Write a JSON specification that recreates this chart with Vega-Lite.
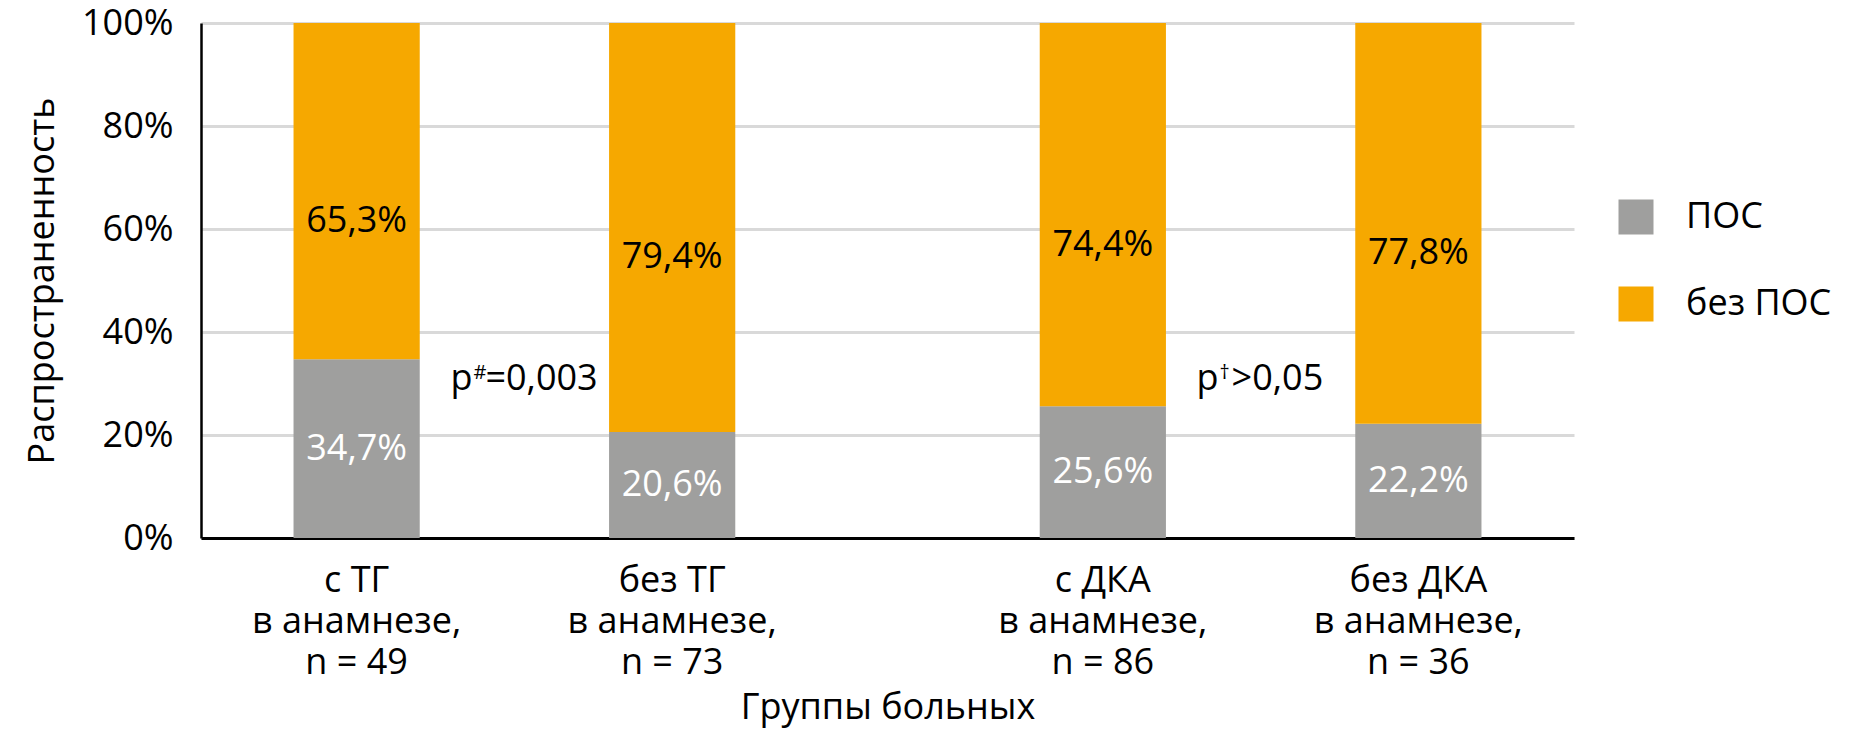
{
  "$schema": "https://vega.github.io/schema/vega-lite/v6.json",
  "width": 1373,
  "height": 515,
  "autosize": {"type": "none"},
  "padding": {"left": 201, "top": 23, "right": 298, "bottom": 196},
  "config": {
    "font": "Open Sans",
    "view": {"stroke": null},
    "locale": {"number": {"decimal": ",", "thousands": " ", "grouping": [3], "currency": ["", ""]}},
    "axis": {
      "labelFont": "Open Sans",
      "titleFont": "Open Sans",
      "labelFontSize": 36,
      "titleFontSize": 36,
      "titleFontWeight": "normal",
      "labelColor": "black",
      "titleColor": "black"
    }
  },
  "datasets": {
    "bars": [
      {"group": "ТГ", "sub": "с", "label": "с ТГ\nв анамнезе,\nn = 49", "status": "ПОС", "pct": 0.347},
      {"group": "ТГ", "sub": "с", "label": "с ТГ\nв анамнезе,\nn = 49", "status": "без ПОС", "pct": 0.653},
      {"group": "ТГ", "sub": "без", "label": "без ТГ\nв анамнезе,\nn = 73", "status": "ПОС", "pct": 0.206},
      {"group": "ТГ", "sub": "без", "label": "без ТГ\nв анамнезе,\nn = 73", "status": "без ПОС", "pct": 0.794},
      {"group": "ДКА", "sub": "с", "label": "с ДКА\nв анамнезе,\nn = 86", "status": "ПОС", "pct": 0.256},
      {"group": "ДКА", "sub": "с", "label": "с ДКА\nв анамнезе,\nn = 86", "status": "без ПОС", "pct": 0.744},
      {"group": "ДКА", "sub": "без", "label": "без ДКА\nв анамнезе,\nn = 36", "status": "ПОС", "pct": 0.222},
      {"group": "ДКА", "sub": "без", "label": "без ДКА\nв анамнезе,\nn = 36", "status": "без ПОС", "pct": 0.778}
    ],
    "notes": [
      {"group": "ТГ", "sup": "#", "rest": "=0,003"},
      {"group": "ДКА", "sup": "†", "rest": ">0,05"}
    ]
  },
  "layer": [
    {
      "data": {"name": "bars"},
      "mark": {"type": "bar"},
      "encoding": {
        "x": {
          "field": "group",
          "type": "nominal",
          "sort": ["ТГ", "ДКА"],
          "scale": {"paddingInner": 0.408, "paddingOuter": 0.124},
          "axis": {
            "labels": false,
            "ticks": false,
            "domainColor": "black",
            "domainWidth": 3,
            "title": "Группы больных",
            "titlePadding": 152
          }
        },
        "xOffset": {
          "field": "sub",
          "type": "nominal",
          "sort": ["с", "без"],
          "scale": {"paddingInner": 0.6, "paddingOuter": 0}
        },
        "y": {
          "field": "pct",
          "type": "quantitative",
          "stack": "zero",
          "scale": {"domain": [0, 1]},
          "axis": {
            "values": [0, 0.2, 0.4, 0.6, 0.8, 1],
            "format": ".0%",
            "ticks": false,
            "tickSize": 0,
            "labelPadding": 28,
            "domainColor": "black",
            "domainWidth": 2.5,
            "gridColor": "#d9d9d9",
            "gridWidth": 3,
            "title": "Распространенность",
            "titlePadding": 20
          }
        },
        "color": {
          "field": "status",
          "type": "nominal",
          "scale": {"domain": ["ПОС", "без ПОС"], "range": ["#9f9f9e", "#f6a800"]},
          "legend": {
            "title": null,
            "orient": "none",
            "legendX": 1417,
            "legendY": 176,
            "symbolType": "square",
            "symbolSize": 1225,
            "symbolStrokeWidth": 0,
            "symbolOpacity": 1,
            "labelFont": "Open Sans",
            "labelFontSize": 36,
            "labelColor": "black",
            "labelOffset": 32,
            "rowPadding": 51,
            "padding": 0
          }
        },
        "order": {"field": "status", "sort": "ascending"}
      }
    },
    {
      "data": {"name": "bars"},
      "mark": {"type": "text", "fontSize": 36, "baseline": "middle"},
      "encoding": {
        "x": {"field": "group", "type": "nominal", "sort": ["ТГ", "ДКА"]},
        "xOffset": {"field": "sub", "type": "nominal", "sort": ["с", "без"]},
        "y": {"field": "pct", "type": "quantitative", "stack": "zero", "bandPosition": 0.5},
        "order": {"field": "status", "sort": "ascending"},
        "text": {"field": "pct", "type": "quantitative", "format": ".1%"},
        "color": {"value": "white"},
        "opacity": {"condition": {"test": "datum.status === 'ПОС'", "value": 1}, "value": 0}
      }
    },
    {
      "data": {"name": "bars"},
      "mark": {"type": "text", "fontSize": 36, "baseline": "middle", "dy": 30},
      "encoding": {
        "x": {"field": "group", "type": "nominal", "sort": ["ТГ", "ДКА"]},
        "xOffset": {"field": "sub", "type": "nominal", "sort": ["с", "без"]},
        "y": {"field": "pct", "type": "quantitative", "stack": "zero", "bandPosition": 0.5},
        "order": {"field": "status", "sort": "ascending"},
        "text": {"field": "pct", "type": "quantitative", "format": ".1%"},
        "color": {"value": "black"},
        "opacity": {"condition": {"test": "datum.status === 'без ПОС'", "value": 1}, "value": 0}
      }
    },
    {
      "data": {"name": "bars"},
      "transform": [{"filter": "datum.status === 'ПОС'"}],
      "mark": {"type": "text", "fontSize": 36, "baseline": "top", "lineBreak": "\n", "lineHeight": 41, "dy": 26, "color": "black"},
      "encoding": {
        "x": {"field": "group", "type": "nominal", "sort": ["ТГ", "ДКА"]},
        "xOffset": {"field": "sub", "type": "nominal", "sort": ["с", "без"]},
        "y": {"datum": 0},
        "text": {"field": "label"}
      }
    },
    {
      "data": {"name": "notes"},
      "mark": {"type": "text", "fontSize": 36, "align": "left", "baseline": "alphabetic", "dx": -64, "color": "black"},
      "encoding": {
        "x": {"field": "group", "type": "nominal", "sort": ["ТГ", "ДКА"]},
        "y": {"datum": 0.287},
        "text": {"value": "p"}
      }
    },
    {
      "data": {"name": "notes"},
      "mark": {"type": "text", "fontSize": 20, "align": "left", "baseline": "alphabetic", "dx": -41, "dy": -11, "color": "black"},
      "encoding": {
        "x": {"field": "group", "type": "nominal", "sort": ["ТГ", "ДКА"]},
        "y": {"datum": 0.287},
        "text": {"field": "sup"}
      }
    },
    {
      "data": {"name": "notes"},
      "mark": {"type": "text", "fontSize": 36, "align": "left", "baseline": "alphabetic", "dx": -29, "color": "black"},
      "encoding": {
        "x": {"field": "group", "type": "nominal", "sort": ["ТГ", "ДКА"]},
        "y": {"datum": 0.287},
        "text": {"field": "rest"}
      }
    }
  ]
}
